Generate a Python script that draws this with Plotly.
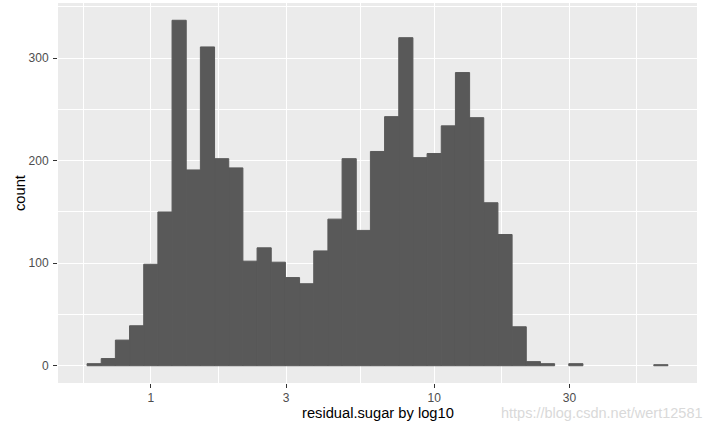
import numpy as np
import plotly.graph_objects as go

# histogram counts on log10 scale (binwidth 0.05 in log10 units)
counts = [2, 7, 25, 39, 99, 150, 337, 191, 311, 202, 193, 102, 115, 101, 86, 80,
          112, 143, 202, 132, 209, 243, 320, 203, 207, 234, 286, 242, 159, 128,
          38, 4, 2, 0, 2, 0, 0, 0, 0, 0, 1]
bin_start_log10 = -0.225
bin_width_log10 = 0.05
x_tick_values = [1, 3, 10, 30]
x_tick_labels = ["1", "3", "10", "30"]
y_tick_values = [0, 100, 200, 300]

centers = bin_start_log10 + bin_width_log10 * (np.arange(len(counts)) + 0.5)
x_major = np.log10(x_tick_values)
x_minor = list((x_major[:-1] + x_major[1:]) / 2)
x_minor = [x_minor[0] - (x_major[1] - x_major[0])] + x_minor + [x_minor[-1] + (x_major[-1] - x_major[-2])]

lo = bin_start_log10
hi = bin_start_log10 + bin_width_log10 * len(counts)
pad = (hi - lo) * 0.05
ymax = max(counts)

fig = go.Figure(go.Bar(
    x=centers, y=counts, width=bin_width_log10,
    marker=dict(color="#595959",
                line=dict(width=[1 if c > 0 else 0 for c in counts], color="#595959")),
    hoverinfo="skip",
))

font = "Arial, Liberation Sans, sans-serif"
fig.update_layout(
    width=712, height=426,
    margin=dict(l=58, r=15, t=3, b=43, autoexpand=False),
    plot_bgcolor="#EBEBEB", paper_bgcolor="white",
    showlegend=False,
    font=dict(family=font),
    xaxis=dict(
        range=[lo - pad, hi + pad], automargin=False,
        tickvals=list(x_major), ticktext=x_tick_labels,
        showgrid=True, gridcolor="white", gridwidth=1.4,
        zeroline=False, showline=False,
        ticks="outside", ticklen=4, tickwidth=1, tickcolor="#333333",
        tickfont=dict(size=12, color="#4D4D4D", family=font),
        ticklabelstandoff=0,
        minor=dict(tickvals=x_minor, showgrid=True, gridcolor="white", gridwidth=0.7, ticks=""),
    ),
    yaxis=dict(
        range=[-ymax * 0.05, ymax * 1.05], automargin=False,
        tickvals=y_tick_values,
        showgrid=True, gridcolor="white", gridwidth=1.4,
        zeroline=False, showline=False,
        ticks="outside", ticklen=4, tickwidth=1, tickcolor="#333333",
        tickfont=dict(size=12, color="#4D4D4D", family=font),
        ticklabelstandoff=2,
        minor=dict(dtick=50, showgrid=True, gridcolor="white", gridwidth=0.7, ticks=""),
    ),
    annotations=[
        dict(text="residual.sugar by log10", xref="paper", yref="paper",
             x=0.5, y=-0.079, xanchor="center", yanchor="middle", showarrow=False,
             font=dict(size=14.7, color="black", family=font)),
        dict(text="count", xref="paper", yref="paper", textangle=-90,
             x=-0.0595, y=0.5, xanchor="center", yanchor="middle", showarrow=False,
             font=dict(size=14.7, color="black", family=font)),
        dict(text="https://blog.csdn.net/wert12581", xref="paper", yref="paper",
             x=1.0125, y=-0.079, xanchor="right", yanchor="middle", showarrow=False,
             font=dict(size=14.5, color="#D9D9D9", family=font)),
    ],
)

fig.write_html("out.html", config={"displayModeBar": False},
               post_script="document.body.style.margin='0';document.body.style.overflow='hidden';")
